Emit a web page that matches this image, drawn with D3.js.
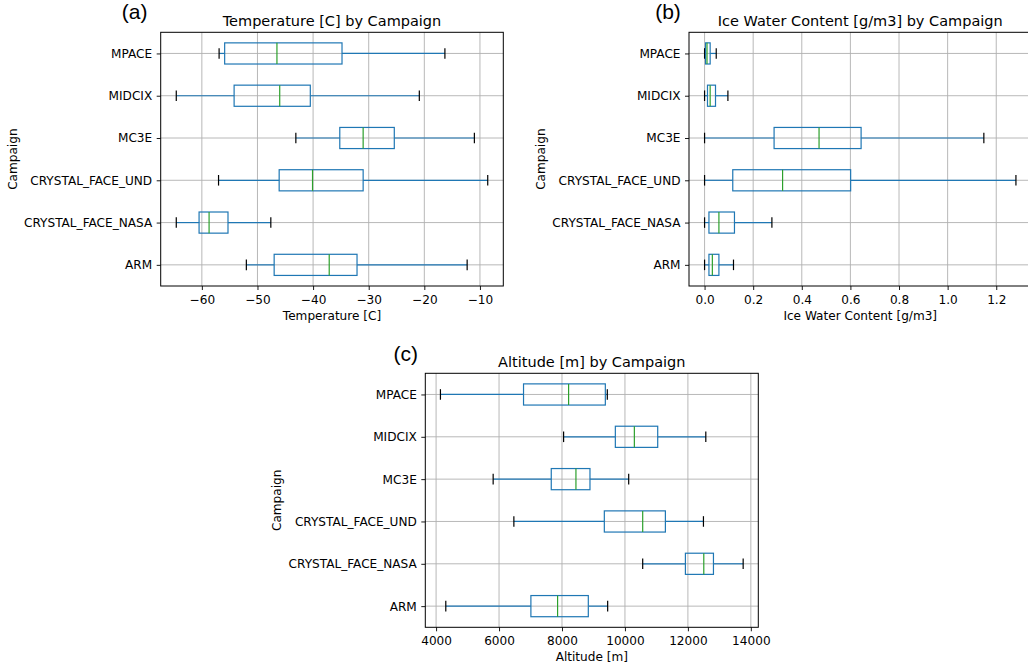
<!DOCTYPE html>
<html>
<head>
<meta charset="utf-8">
<script src="https://cdnjs.cloudflare.com/ajax/libs/d3/7.8.5/d3.min.js"></script>
<style>
body { margin: 0; background: #fff; }
svg { display: block; }
text { font-family: "DejaVu Sans", sans-serif; fill: #000; }
</style>
</head>
<body>
<svg width="1028" height="668"></svg>
<script>
// campaigns, listed top to bottom as they appear on each panel
var campaigns = ["MPACE", "MIDCIX", "MC3E", "CRYSTAL_FACE_UND", "CRYSTAL_FACE_NASA", "ARM"];

// per campaign: [lower whisker, q1, median, q3, upper whisker]
var tempStats = [
  [-56.9, -55.9, -46.5, -34.8, -16.3],
  [-64.6, -54.2, -46.0, -40.5, -20.9],
  [-43.1, -35.2, -31.0, -25.4, -11.0],
  [-57.0, -46.1, -40.1, -31.0, -8.6],
  [-64.6, -60.5, -58.7, -55.3, -47.6],
  [-52.0, -47.0, -37.1, -32.1, -12.3]
];
var iwcStats = [
  [0.0, 0.004, 0.010, 0.023, 0.048],
  [0.0, 0.012, 0.023, 0.045, 0.096],
  [0.0, 0.286, 0.471, 0.644, 1.149],
  [0.0, 0.116, 0.321, 0.601, 1.281],
  [0.0, 0.018, 0.059, 0.123, 0.277],
  [0.0, 0.018, 0.032, 0.059, 0.119]
];
var altStats = [
  [4138, 6778, 8210, 9377, 9440],
  [8051, 9695, 10299, 11041, 12569],
  [5813, 7659, 8443, 8889, 10119],
  [6471, 9345, 10564, 11285, 12494],
  [10564, 11921, 12505, 12812, 13756],
  [4308, 7012, 7860, 8836, 9451]
];

var tempTicks = [-60, -50, -40, -30, -20, -10];
var iwcTicks = [0, 0.2, 0.4, 0.6, 0.8, 1.0, 1.2];
var altTicks = [4000, 6000, 8000, 10000, 12000, 14000];

var svg = d3.select("svg");

var boxColor = "#1f77b4",
    medColor = "#2ca02c",
    gridColor = "#b0b0b0",
    tickFont = 12.1;

var panels = [
  {stats: tempStats, ticks: tempTicks, fmt: d3.format("d"), letter: "(a)", letterX: 134.7, letterY: 19,
   title: "Temperature [C] by Campaign", xlabel: "Temperature [C]",
   left: 160.7, right: 503.3, top: 32.3, bottom: 286},
  {stats: iwcStats, ticks: iwcTicks, fmt: d3.format(".1f"), letter: "(b)", letterX: 668, letterY: 19,
   title: "Ice Water Content [g/m3] by Campaign", xlabel: "Ice Water Content [g/m3]",
   left: 689, right: 1031.5, top: 32.3, bottom: 286},
  {stats: altStats, ticks: altTicks, fmt: d3.format("d"), letter: "(c)", letterX: 405.7, letterY: 360.6,
   title: "Altitude [m] by Campaign", xlabel: "Altitude [m]",
   left: 425.3, right: 758.3, top: 373.3, bottom: 627.3}
];

panels.forEach(drawPanel);

function drawPanel(p) {
  var g = svg.append("g");

  // matplotlib style autoscale: data range plus 5% each side
  var lo = d3.min(p.stats, function(d) { return d[0]; }),
      hi = d3.max(p.stats, function(d) { return d[4]; }),
      m = (hi - lo) * 0.05;

  var x = d3.scaleLinear().domain([lo - m, hi + m]).range([p.left, p.right]);
  var y = d3.scalePoint().domain(campaigns).range([p.top, p.bottom]).padding(0.5);
  var half = y.step() * 0.25;

  // grid
  g.selectAll(".vgrid").data(p.ticks).enter().append("line")
      .attr("x1", function(d) { return x(d); })
      .attr("x2", function(d) { return x(d); })
      .attr("y1", p.top).attr("y2", p.bottom)
      .attr("stroke", gridColor).attr("stroke-width", 0.9);
  g.selectAll(".hgrid").data(campaigns).enter().append("line")
      .attr("x1", p.left).attr("x2", p.right)
      .attr("y1", function(d) { return y(d); })
      .attr("y2", function(d) { return y(d); })
      .attr("stroke", gridColor).attr("stroke-width", 0.9);

  var rows = g.selectAll(".row").data(p.stats).enter().append("g")
      .attr("transform", function(d, i) { return "translate(0," + y(campaigns[i]) + ")"; });

  // whiskers
  rows.append("line")
      .attr("x1", function(d) { return x(d[0]); })
      .attr("x2", function(d) { return x(d[1]); })
      .attr("stroke", boxColor).attr("stroke-width", 1.2);
  rows.append("line")
      .attr("x1", function(d) { return x(d[3]); })
      .attr("x2", function(d) { return x(d[4]); })
      .attr("stroke", boxColor).attr("stroke-width", 1.2);

  // caps
  rows.append("line")
      .attr("x1", function(d) { return x(d[0]); })
      .attr("x2", function(d) { return x(d[0]); })
      .attr("y1", -half / 2).attr("y2", half / 2)
      .attr("stroke", "#000").attr("stroke-width", 1.2);
  rows.append("line")
      .attr("x1", function(d) { return x(d[4]); })
      .attr("x2", function(d) { return x(d[4]); })
      .attr("y1", -half / 2).attr("y2", half / 2)
      .attr("stroke", "#000").attr("stroke-width", 1.2);

  // boxes
  rows.append("rect")
      .attr("x", function(d) { return x(d[1]); })
      .attr("width", function(d) { return x(d[3]) - x(d[1]); })
      .attr("y", -half).attr("height", half * 2)
      .attr("fill", "none")
      .attr("stroke", boxColor).attr("stroke-width", 1.2);

  // medians
  rows.append("line")
      .attr("x1", function(d) { return x(d[2]); })
      .attr("x2", function(d) { return x(d[2]); })
      .attr("y1", -half).attr("y2", half)
      .attr("stroke", medColor).attr("stroke-width", 1.2);

  // axes
  var xAxis = g.append("g")
      .attr("transform", "translate(0," + p.bottom + ")")
      .call(d3.axisBottom(x).tickValues(p.ticks).tickFormat(p.fmt)
        .tickSize(4).tickSizeOuter(0).tickPadding(5));
  var yAxis = g.append("g")
      .attr("transform", "translate(" + p.left + ",0)")
      .call(d3.axisLeft(y).tickSize(4).tickSizeOuter(0).tickPadding(4.5));

  [xAxis, yAxis].forEach(function(a) {
    a.select(".domain").remove();
    a.selectAll("line").attr("stroke", "#000").attr("stroke-width", 0.9);
    a.selectAll("text")
        .attr("fill", "#000")
        .style("font-family", "'DejaVu Sans', sans-serif")
        .style("font-size", tickFont + "px");
  });

  // spines
  g.append("rect")
      .attr("x", p.left).attr("y", p.top)
      .attr("width", p.right - p.left).attr("height", p.bottom - p.top)
      .attr("fill", "none").attr("stroke", "#000").attr("stroke-width", 1);

  // title
  g.append("text")
      .attr("x", (p.left + p.right) / 2)
      .attr("y", p.top - 6.8)
      .attr("text-anchor", "middle")
      .style("font-size", "14.5px")
      .text(p.title);

  // x label
  g.append("text")
      .attr("x", (p.left + p.right) / 2)
      .attr("y", p.bottom + 34)
      .attr("text-anchor", "middle")
      .style("font-size", tickFont + "px")
      .text(p.xlabel);

  // y label
  g.append("text")
      .attr("transform", "translate(" + (p.left - 144.2) + "," + ((p.top + p.bottom) / 2) + ") rotate(-90)")
      .attr("text-anchor", "middle")
      .style("font-size", tickFont + "px")
      .text("Campaign");

  // panel letter
  svg.append("text")
      .attr("x", p.letterX)
      .attr("y", p.letterY)
      .attr("text-anchor", "middle")
      .style("font-family", "'Liberation Sans', Arial, sans-serif")
      .style("font-size", "21px")
      .attr("fill", "#222")
      .text(p.letter);
}
</script>
</body>
</html>
